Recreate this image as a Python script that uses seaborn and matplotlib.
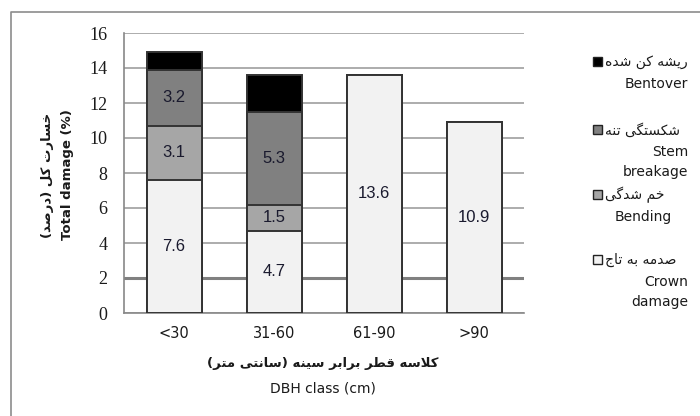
import numpy as np
import matplotlib
matplotlib.use("Agg")
import matplotlib.pyplot as plt
from matplotlib.patches import Rectangle
from matplotlib.lines import Line2D
import seaborn as sns

# data
classes = ['<30', '31-60', '61-90', '>90']
crown = [7.6, 4.7, 13.6, 10.9]
bending = [3.1, 1.5, 0, 0]
stem = [3.2, 5.3, 0, 0]
bentover = [1.0, 2.1, 0, 0]

layer_names = ['Crown\ndamage', 'Bending', 'Stem\nbreakage', 'Bentover']
layer_fa = ['صدمه به تاج', 'خم شدگی', 'شکستگی تنه', 'ریشه کن شده']
layer_colors = ['#f2f2f2', '#a6a6a6', '#808080', '#000000']

# --- tiny Persian shaper (matplotlib does no Arabic shaping / bidi) ---
FORMS = {  # isolated, final, initial, medial
    'ا': ('\ufe8d', '\ufe8e', None, None),
    'ب': ('\ufe8f', '\ufe90', '\ufe91', '\ufe92'),
    'ت': ('\ufe95', '\ufe96', '\ufe97', '\ufe98'),
    'ج': ('\ufe9d', '\ufe9e', '\ufe9f', '\ufea0'),
    'خ': ('\ufea5', '\ufea6', '\ufea7', '\ufea8'),
    'د': ('\ufea9', '\ufeaa', None, None),
    'ر': ('\ufead', '\ufeae', None, None),
    'س': ('\ufeb1', '\ufeb2', '\ufeb3', '\ufeb4'),
    'ش': ('\ufeb5', '\ufeb6', '\ufeb7', '\ufeb8'),
    'ص': ('\ufeb9', '\ufeba', '\ufebb', '\ufebc'),
    'ط': ('\ufec1', '\ufec2', '\ufec3', '\ufec4'),
    'ق': ('\ufed5', '\ufed6', '\ufed7', '\ufed8'),
    'ل': ('\ufedd', '\ufede', '\ufedf', '\ufee0'),
    'م': ('\ufee1', '\ufee2', '\ufee3', '\ufee4'),
    'ن': ('\ufee5', '\ufee6', '\ufee7', '\ufee8'),
    'ه': ('\ufee9', '\ufeea', '\ufeeb', '\ufeec'),
    'ک': ('\ufb8e', '\ufb8f', '\ufb90', '\ufb91'),
    'گ': ('\ufb92', '\ufb93', '\ufb94', '\ufb95'),
    'ی': ('\ufbfc', '\ufbfd', '\ufbfe', '\ufbff'),
}


def fa(s):
    out = []
    i = 0
    while i < len(s):
        c = s[i]
        if c not in FORMS:
            out.append({'(': ')', ')': '('}.get(c, c))
            i += 1
            continue
        prev = s[i - 1] if i > 0 else ''
        joins_prev = prev in FORMS and FORMS[prev][2] is not None
        if c == 'ل' and i + 1 < len(s) and s[i + 1] == 'ا':
            out.append('\ufefc' if joins_prev else '\ufefb')
            i += 2
            continue
        nxt = s[i + 1] if i + 1 < len(s) else ''
        joins_next = nxt in FORMS and FORMS[c][2] is not None
        iso, fin, ini, med = FORMS[c]
        if joins_prev and joins_next:
            out.append(med)
        elif joins_prev:
            out.append(fin)
        elif joins_next:
            out.append(ini)
        else:
            out.append(iso)
        i += 1
    return ''.join(reversed(out))


sns.set_style('white')
plt.rcParams['font.family'] = ['DejaVu Sans']

W, H = 700, 416
fig = plt.figure(figsize=(7, 4.16), dpi=100)


def px(x, y):
    return x / W, 1 - y / H


ax = fig.add_axes([124 / W, 1 - 313 / H, 400 / W, 280 / H])

# stacked bars: draw cumulative totals from the top layer down
layers = [crown, bending, stem, bentover]
cum = np.cumsum(np.array(layers), axis=0)
for k in range(len(layers) - 1, -1, -1):
    sns.barplot(x=classes, y=cum[k], order=classes, color=layer_colors[k],
                saturation=1, width=0.55, edgecolor='#333333', linewidth=1.4,
                errorbar=None, ax=ax, zorder=3)

# segment labels
for k in range(3):
    for i, v in enumerate(layers[k]):
        if v > 0:
            ax.text(i, cum[k][i] - v / 2, f'{v:.1f}', ha='center', va='center',
                    fontsize=12, color='#1a1a2e', family='Liberation Sans', zorder=4)

ax.set_xlim(-0.5, 3.5)
ax.set_ylim(0, 16)
ax.set_yticks(range(0, 17, 2))
ax.set_xticks([-0.5, 0.5, 1.5, 2.5, 3.5], minor=False)
ax.set_xticklabels([])
ax.set_xticks(range(4), minor=True)
ax.set_xticklabels(classes, minor=True, fontsize=10.5, color='#1a1a1a')
ax.tick_params(axis='x', which='minor', length=0, pad=9)
ax.tick_params(axis='x', which='major', length=5, width=1, color='#888888', direction='out')
ax.tick_params(axis='y', length=6, width=1, color='#888888', direction='out', pad=6,
               labelsize=13, labelcolor='#1a1a1a')
for t in ax.get_yticklabels():
    t.set_family('Liberation Serif')
ax.set_xlabel('')
ax.set_ylabel('')

ax.yaxis.grid(True, color='#a6a6a6', linewidth=1.3, zorder=0)
ax.set_axisbelow(True)
ax.get_ygridlines()[1].set_linewidth(2.2)
ax.get_ygridlines()[1].set_color('#808080')
for side in ['top', 'right']:
    ax.spines[side].set_visible(False)
for side in ['left', 'bottom']:
    ax.spines[side].set_color('#888888')
    ax.spines[side].set_linewidth(1.2)

# axis titles (Persian + English)
fig.text(*px(47, 175), fa('خسارت کل (درصد)'), rotation=90, ha='center', va='center',
         fontsize=9.5, fontweight='bold', color='#1a1a1a')
fig.text(*px(67, 175), 'Total damage (%)', rotation=90, ha='center', va='center',
         fontsize=9.5, fontweight='bold', color='#1a1a1a')
fig.text(*px(323, 363), fa('کلاسه قطر برابر سینه (سانتی متر)'), ha='center', va='center',
         fontsize=9.5, fontweight='bold', color='#1a1a1a')
fig.text(*px(323, 388), 'DBH class (cm)', ha='center', va='center',
         fontsize=10, color='#1a1a1a')

# legend (built by hand: square + Persian line + English lines)
leg_y = {3: 62, 2: 130, 1: 195, 0: 260}
leg_right = {3: 688, 2: 688, 1: 672, 0: 688}
for k in range(4):
    y0 = leg_y[k]
    fig.patches.append(Rectangle(px(593, y0 + 4), 9 / W, 9 / H, transform=fig.transFigure,
                                 facecolor=layer_colors[k], edgecolor='#222222', linewidth=1))
    fig.text(*px(605, y0), fa(layer_fa[k]), ha='left', va='center', fontsize=10, color='#1a1a1a')
    for j, line in enumerate(layer_names[k].split('\n')):
        fig.text(*px(leg_right[k], y0 + 22 + 20 * j), line, ha='right', va='center',
                 fontsize=10, color='#1a1a1a')

# outer frame of the original figure
fig.lines.append(Line2D([11 / W, 11 / W, 1], [0, 1 - 12 / H, 1 - 12 / H],
                        transform=fig.transFigure, color='#8c8c8c', linewidth=1.2))

fig.savefig('out.png', dpi=100)
